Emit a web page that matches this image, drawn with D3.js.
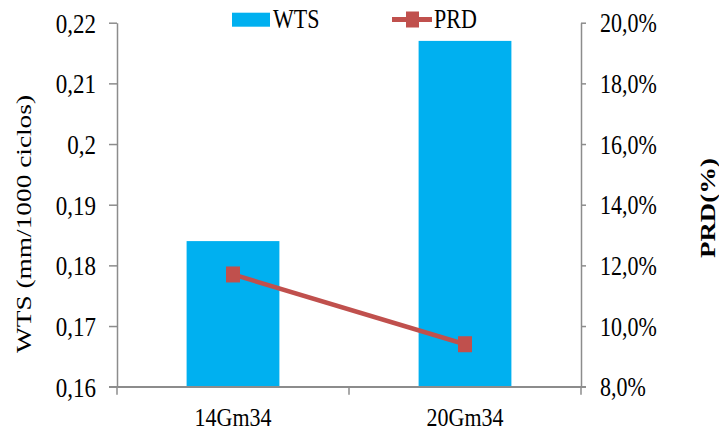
<!DOCTYPE html>
<html>
<head>
<meta charset="utf-8">
<script src="https://cdn.jsdelivr.net/npm/d3@7"></script>
<style>
  body { margin: 0; background: #fff; }
  svg text { font-family: "Liberation Serif", "DejaVu Serif", serif !important; fill: #000; }
</style>
</head>
<body>
<svg id="chart" width="719" height="432"></svg>
<script>
// data
const categories = ["14Gm34", "20Gm34"];
const wtsValues = [0.184, 0.217];
const prdValues = [0.117, 0.094];
const wtsTicks = [0.16, 0.17, 0.18, 0.19, 0.2, 0.21, 0.22];
const prdTicks = [0.08, 0.10, 0.12, 0.14, 0.16, 0.18, 0.20];

const svg = d3.select("#chart");
const mLeft = 117, mRight = 581, mTop = 22.7, mBottom = 386.7;
const axisColor = "#8c8c8c";
const barColor = "#00b0f0", lineColor = "#c0504d";
const sy = 1.22; // the original text is a bit taller than wide

const x = d3.scaleBand().domain(categories).range([mLeft, mRight]);
const yL = d3.scaleLinear().domain([0.16, 0.22]).range([mBottom, mTop]);
const yR = d3.scaleLinear().domain([0.08, 0.20]).range([mBottom, mTop]);

const commaNum = d => String(+d.toFixed(2)).replace(".", ",");
const commaPct = d => (d * 100).toFixed(1).replace(".", ",") + "%";

// bars
const barW = x.bandwidth() * 0.4;
svg.selectAll("rect.bar")
  .data(categories)
  .enter().append("rect")
  .attr("class", "bar")
  .attr("x", d => x(d) + x.bandwidth() / 2 - barW / 2)
  .attr("width", barW)
  .attr("y", (d, i) => yL(wtsValues[i]))
  .attr("height", (d, i) => mBottom - yL(wtsValues[i]))
  .attr("fill", barColor);

// left axis
const gL = svg.append("g").attr("transform", `translate(${mLeft},0)`)
  .call(d3.axisLeft(yL).tickValues(wtsTicks).tickFormat(commaNum).tickSize(8).tickSizeOuter(0));
// right axis
const gR = svg.append("g").attr("transform", `translate(${mRight},0)`)
  .call(d3.axisRight(yR).tickValues(prdTicks).tickFormat(commaPct).tickSize(5).tickSizeOuter(0));
// x axis
const xTicks = [mLeft, (mLeft + mRight) / 2, mRight];
const gX = svg.append("g").attr("transform", `translate(0,${mBottom})`)
  .call(d3.axisBottom(x).tickSize(0).tickSizeOuter(0));
gX.selectAll(".tick line").remove();
svg.selectAll("line.xtick")
  .data(xTicks)
  .enter().append("line")
  .attr("x1", d => d).attr("x2", d => d)
  .attr("y1", mBottom).attr("y2", mBottom + 8)
  .attr("stroke", axisColor).attr("stroke-width", 1.5);

[gL, gR, gX].forEach(g => {
  g.attr("font-family", null);
  g.selectAll("path.domain").attr("stroke", axisColor).attr("stroke-width", 1.5);
  g.selectAll(".tick line").attr("stroke", axisColor).attr("stroke-width", 1.5);
  g.selectAll(".tick text").attr("font-size", 22).attr("fill", "#000")
    .attr("transform", `scale(1,${sy})`);
});
gL.selectAll(".tick text").attr("font-size", 23).attr("x", -21).attr("dy", "0.34em");
gR.selectAll(".tick text").attr("x", 19).attr("dy", "0.34em");
gX.selectAll(".tick text").attr("transform", "scale(1,1.12)")
  .attr("y", 39.5 / 1.12).attr("dy", 0);
// extend x-axis line to right tick end
svg.append("line").attr("x1", mLeft - 8).attr("x2", mRight + 5)
  .attr("y1", mBottom).attr("y2", mBottom)
  .attr("stroke", axisColor).attr("stroke-width", 1.5);

// PRD line
const line = d3.line()
  .x((d, i) => x(categories[i]) + x.bandwidth() / 2)
  .y(d => yR(d));
svg.append("path").datum(prdValues)
  .attr("d", line).attr("fill", "none")
  .attr("stroke", lineColor).attr("stroke-width", 4.5);
svg.selectAll("rect.mk")
  .data(prdValues)
  .enter().append("rect")
  .attr("class", "mk")
  .attr("x", (d, i) => x(categories[i]) + x.bandwidth() / 2 - 7)
  .attr("y", d => yR(d) - 8)
  .attr("width", 14).attr("height", 16)
  .attr("fill", lineColor);

// axis titles
svg.append("text")
  .attr("transform", "translate(31,224) rotate(-90)")
  .attr("text-anchor", "middle")
  .attr("font-size", 22)
  .attr("textLength", 258).attr("lengthAdjust", "spacingAndGlyphs")
  .text("WTS (mm/1000 ciclos)");
svg.append("text")
  .attr("transform", "translate(715,208) rotate(-90)")
  .attr("text-anchor", "middle")
  .attr("font-size", 22).attr("font-weight", "bold")
  .attr("textLength", 100).attr("lengthAdjust", "spacingAndGlyphs")
  .text("PRD(%)");

// legend
const lg = svg.append("g");
lg.append("rect").attr("x", 232).attr("y", 12.7).attr("width", 38).attr("height", 14).attr("fill", barColor);
lg.append("text").attr("x", 273).attr("y", 28.3 / sy).attr("font-size", 22)
  .attr("transform", `scale(1,${sy})`).text("WTS");
lg.append("line").attr("x1", 392).attr("x2", 432).attr("y1", 19.5).attr("y2", 19.5)
  .attr("stroke", lineColor).attr("stroke-width", 5);
lg.append("rect").attr("x", 406).attr("y", 11.5).attr("width", 13).attr("height", 16).attr("fill", lineColor);
lg.append("text").attr("x", 434).attr("y", 28.3 / sy).attr("font-size", 22)
  .attr("transform", `scale(1,${sy})`).text("PRD");
</script>
</body>
</html>
